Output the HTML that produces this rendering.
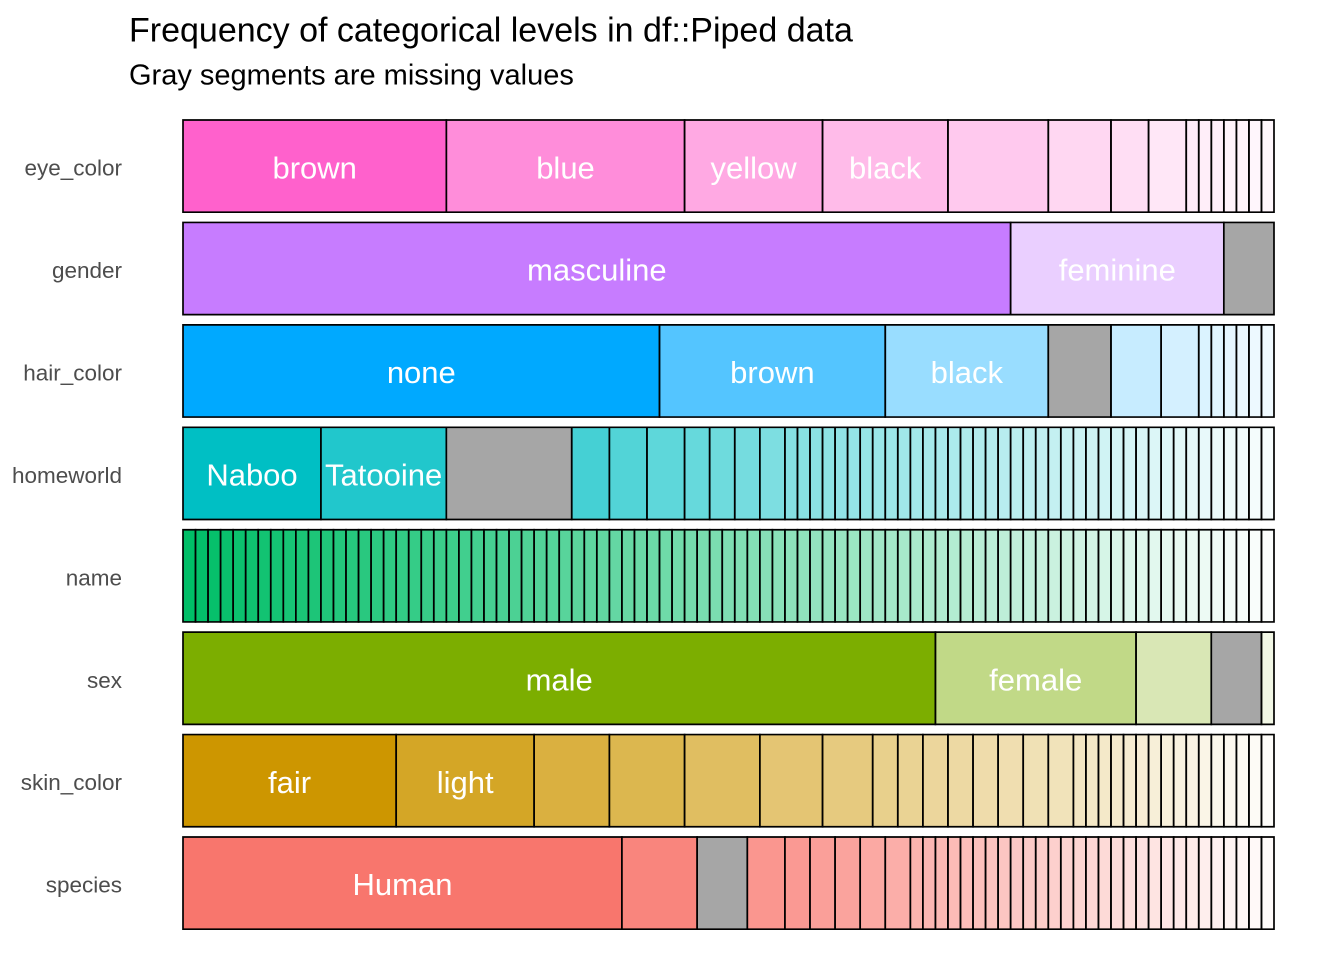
<!DOCTYPE html>
<html><head><meta charset="utf-8"><style>
html,body{margin:0;padding:0;background:#fff;}
svg{display:block;}
svg rect{vector-effect:non-scaling-stroke;}
text{font-family:"Liberation Sans",Arial,sans-serif;}
.ax{font-size:22.5px;fill:#4D4D4D;text-anchor:end;}
.lb{font-size:31px;fill:#fff;text-anchor:middle;}
</style></head><body>
<svg width="1344" height="960" viewBox="0 0 1344 960" xmlns="http://www.w3.org/2000/svg">
<rect x="0" y="0" width="1344" height="960" fill="#fff"/>
<text x="129" y="41.7" font-size="34" fill="#000">Frequency of categorical levels in df::Piped data</text>
<text x="129" y="84.3" font-size="29" fill="#000">Gray segments are missing values</text>

<g transform="translate(183,120) scale(12.54023,1)" fill="#FF61CC" stroke="#000" stroke-width="1.7">
<rect x="0" width="21" height="92.2"/>
<rect x="21" width="19" height="92.2" fill-opacity=".72"/>
<rect x="40" width="11" height="92.2" fill-opacity=".54"/>
<rect x="51" width="10" height="92.2" fill-opacity=".43"/>
<rect x="61" width="8" height="92.2" fill-opacity=".34"/>
<rect x="69" width="5" height="92.2" fill-opacity=".25"/>
<rect x="74" width="3" height="92.2" fill-opacity=".21"/>
<rect x="77" width="3" height="92.2" fill-opacity=".15"/>
<rect x="80" width="1" height="92.2" fill-opacity=".12"/>
<rect x="81" width="1" height="92.2" fill-opacity=".11"/>
<rect x="82" width="1" height="92.2" fill-opacity=".10"/>
<rect x="83" width="1" height="92.2" fill-opacity=".08"/>
<rect x="84" width="1" height="92.2" fill-opacity=".07"/>
<rect x="85" width="1" height="92.2" fill-opacity=".06"/>
<rect x="86" width="1" height="92.2" fill-opacity=".05"/>
</g>

<g transform="translate(183,222.43) scale(12.54023,1)" fill="#C77CFF" stroke="#000" stroke-width="1.7">
<rect x="0" width="66" height="92.2"/>
<rect x="66" width="17" height="92.2" fill-opacity=".37"/>
<rect x="83" width="4" height="92.2" fill="#A6A6A6"/>
</g>

<g transform="translate(183,324.86) scale(12.54023,1)" fill="#00A9FF" stroke="#000" stroke-width="1.7">
<rect x="0" width="38" height="92.2"/>
<rect x="38" width="18" height="92.2" fill-opacity=".67"/>
<rect x="56" width="13" height="92.2" fill-opacity=".40"/>
<rect x="69" width="5" height="92.2" fill="#A6A6A6"/>
<rect x="74" width="4" height="92.2" fill-opacity=".22"/>
<rect x="78" width="3" height="92.2" fill-opacity=".17"/>
<rect x="81" width="1" height="92.2" fill-opacity=".14"/>
<rect x="82" width="1" height="92.2" fill-opacity=".12"/>
<rect x="83" width="1" height="92.2" fill-opacity=".10"/>
<rect x="84" width="1" height="92.2" fill-opacity=".08"/>
<rect x="85" width="1" height="92.2" fill-opacity=".07"/>
<rect x="86" width="1" height="92.2" fill-opacity=".06"/>
</g>

<g transform="translate(183,427.29) scale(12.54023,1)" fill="#00BFC4" stroke="#000" stroke-width="1.7">
<rect x="0" width="11" height="92.2"/>
<rect x="11" width="10" height="92.2" fill-opacity=".87"/>
<rect x="21" width="10" height="92.2" fill="#A6A6A6"/>
<rect x="31" width="3" height="92.2" fill-opacity=".73"/>
<rect x="34" width="3" height="92.2" fill-opacity=".68"/>
<rect x="37" width="3" height="92.2" fill-opacity=".63"/>
<rect x="40" width="2" height="92.2" fill-opacity=".60"/>
<rect x="42" width="2" height="92.2" fill-opacity=".57"/>
<rect x="44" width="2" height="92.2" fill-opacity=".54"/>
<rect x="46" width="2" height="92.2" fill-opacity=".51"/>
<rect x="48" width="1" height="92.2" fill-opacity=".480"/>
<rect x="49" width="1" height="92.2" fill-opacity=".468"/>
<rect x="50" width="1" height="92.2" fill-opacity=".456"/>
<rect x="51" width="1" height="92.2" fill-opacity=".445"/>
<rect x="52" width="1" height="92.2" fill-opacity=".433"/>
<rect x="53" width="1" height="92.2" fill-opacity=".421"/>
<rect x="54" width="1" height="92.2" fill-opacity=".409"/>
<rect x="55" width="1" height="92.2" fill-opacity=".397"/>
<rect x="56" width="1" height="92.2" fill-opacity=".385"/>
<rect x="57" width="1" height="92.2" fill-opacity=".373"/>
<rect x="58" width="1" height="92.2" fill-opacity=".362"/>
<rect x="59" width="1" height="92.2" fill-opacity=".350"/>
<rect x="60" width="1" height="92.2" fill-opacity=".338"/>
<rect x="61" width="1" height="92.2" fill-opacity=".326"/>
<rect x="62" width="1" height="92.2" fill-opacity=".314"/>
<rect x="63" width="1" height="92.2" fill-opacity=".302"/>
<rect x="64" width="1" height="92.2" fill-opacity=".291"/>
<rect x="65" width="1" height="92.2" fill-opacity=".279"/>
<rect x="66" width="1" height="92.2" fill-opacity=".267"/>
<rect x="67" width="1" height="92.2" fill-opacity=".255"/>
<rect x="68" width="1" height="92.2" fill-opacity=".243"/>
<rect x="69" width="1" height="92.2" fill-opacity=".231"/>
<rect x="70" width="1" height="92.2" fill-opacity=".219"/>
<rect x="71" width="1" height="92.2" fill-opacity=".208"/>
<rect x="72" width="1" height="92.2" fill-opacity=".196"/>
<rect x="73" width="1" height="92.2" fill-opacity=".184"/>
<rect x="74" width="1" height="92.2" fill-opacity=".172"/>
<rect x="75" width="1" height="92.2" fill-opacity=".160"/>
<rect x="76" width="1" height="92.2" fill-opacity=".148"/>
<rect x="77" width="1" height="92.2" fill-opacity=".137"/>
<rect x="78" width="1" height="92.2" fill-opacity=".125"/>
<rect x="79" width="1" height="92.2" fill-opacity=".113"/>
<rect x="80" width="1" height="92.2" fill-opacity=".101"/>
<rect x="81" width="1" height="92.2" fill-opacity=".089"/>
<rect x="82" width="1" height="92.2" fill-opacity=".077"/>
<rect x="83" width="1" height="92.2" fill-opacity=".066"/>
<rect x="84" width="1" height="92.2" fill-opacity=".054"/>
<rect x="85" width="1" height="92.2" fill-opacity=".042"/>
<rect x="86" width="1" height="92.2" fill-opacity=".030"/>
</g>

<g transform="translate(183,529.72) scale(12.54023,1)" fill="#00BE67" stroke="#000" stroke-width="1.7">
<rect x="0" width="1" height="92.2"/>
<rect x="1" width="1" height="92.2" fill-opacity=".989"/>
<rect x="2" width="1" height="92.2" fill-opacity=".977"/>
<rect x="3" width="1" height="92.2" fill-opacity=".966"/>
<rect x="4" width="1" height="92.2" fill-opacity=".954"/>
<rect x="5" width="1" height="92.2" fill-opacity=".943"/>
<rect x="6" width="1" height="92.2" fill-opacity=".931"/>
<rect x="7" width="1" height="92.2" fill-opacity=".920"/>
<rect x="8" width="1" height="92.2" fill-opacity=".908"/>
<rect x="9" width="1" height="92.2" fill-opacity=".897"/>
<rect x="10" width="1" height="92.2" fill-opacity=".885"/>
<rect x="11" width="1" height="92.2" fill-opacity=".874"/>
<rect x="12" width="1" height="92.2" fill-opacity=".862"/>
<rect x="13" width="1" height="92.2" fill-opacity=".851"/>
<rect x="14" width="1" height="92.2" fill-opacity=".839"/>
<rect x="15" width="1" height="92.2" fill-opacity=".828"/>
<rect x="16" width="1" height="92.2" fill-opacity=".816"/>
<rect x="17" width="1" height="92.2" fill-opacity=".805"/>
<rect x="18" width="1" height="92.2" fill-opacity=".793"/>
<rect x="19" width="1" height="92.2" fill-opacity=".782"/>
<rect x="20" width="1" height="92.2" fill-opacity=".770"/>
<rect x="21" width="1" height="92.2" fill-opacity=".759"/>
<rect x="22" width="1" height="92.2" fill-opacity=".747"/>
<rect x="23" width="1" height="92.2" fill-opacity=".736"/>
<rect x="24" width="1" height="92.2" fill-opacity=".724"/>
<rect x="25" width="1" height="92.2" fill-opacity=".713"/>
<rect x="26" width="1" height="92.2" fill-opacity=".701"/>
<rect x="27" width="1" height="92.2" fill-opacity=".690"/>
<rect x="28" width="1" height="92.2" fill-opacity=".678"/>
<rect x="29" width="1" height="92.2" fill-opacity=".667"/>
<rect x="30" width="1" height="92.2" fill-opacity=".655"/>
<rect x="31" width="1" height="92.2" fill-opacity=".644"/>
<rect x="32" width="1" height="92.2" fill-opacity=".632"/>
<rect x="33" width="1" height="92.2" fill-opacity=".621"/>
<rect x="34" width="1" height="92.2" fill-opacity=".609"/>
<rect x="35" width="1" height="92.2" fill-opacity=".598"/>
<rect x="36" width="1" height="92.2" fill-opacity=".586"/>
<rect x="37" width="1" height="92.2" fill-opacity=".575"/>
<rect x="38" width="1" height="92.2" fill-opacity=".563"/>
<rect x="39" width="1" height="92.2" fill-opacity=".552"/>
<rect x="40" width="1" height="92.2" fill-opacity=".540"/>
<rect x="41" width="1" height="92.2" fill-opacity=".529"/>
<rect x="42" width="1" height="92.2" fill-opacity=".517"/>
<rect x="43" width="1" height="92.2" fill-opacity=".506"/>
<rect x="44" width="1" height="92.2" fill-opacity=".494"/>
<rect x="45" width="1" height="92.2" fill-opacity=".483"/>
<rect x="46" width="1" height="92.2" fill-opacity=".471"/>
<rect x="47" width="1" height="92.2" fill-opacity=".460"/>
<rect x="48" width="1" height="92.2" fill-opacity=".448"/>
<rect x="49" width="1" height="92.2" fill-opacity=".437"/>
<rect x="50" width="1" height="92.2" fill-opacity=".425"/>
<rect x="51" width="1" height="92.2" fill-opacity=".414"/>
<rect x="52" width="1" height="92.2" fill-opacity=".402"/>
<rect x="53" width="1" height="92.2" fill-opacity=".391"/>
<rect x="54" width="1" height="92.2" fill-opacity=".379"/>
<rect x="55" width="1" height="92.2" fill-opacity=".368"/>
<rect x="56" width="1" height="92.2" fill-opacity=".356"/>
<rect x="57" width="1" height="92.2" fill-opacity=".345"/>
<rect x="58" width="1" height="92.2" fill-opacity=".333"/>
<rect x="59" width="1" height="92.2" fill-opacity=".322"/>
<rect x="60" width="1" height="92.2" fill-opacity=".310"/>
<rect x="61" width="1" height="92.2" fill-opacity=".299"/>
<rect x="62" width="1" height="92.2" fill-opacity=".287"/>
<rect x="63" width="1" height="92.2" fill-opacity=".276"/>
<rect x="64" width="1" height="92.2" fill-opacity=".264"/>
<rect x="65" width="1" height="92.2" fill-opacity=".253"/>
<rect x="66" width="1" height="92.2" fill-opacity=".241"/>
<rect x="67" width="1" height="92.2" fill-opacity=".230"/>
<rect x="68" width="1" height="92.2" fill-opacity=".218"/>
<rect x="69" width="1" height="92.2" fill-opacity=".207"/>
<rect x="70" width="1" height="92.2" fill-opacity=".195"/>
<rect x="71" width="1" height="92.2" fill-opacity=".184"/>
<rect x="72" width="1" height="92.2" fill-opacity=".172"/>
<rect x="73" width="1" height="92.2" fill-opacity=".161"/>
<rect x="74" width="1" height="92.2" fill-opacity=".149"/>
<rect x="75" width="1" height="92.2" fill-opacity=".138"/>
<rect x="76" width="1" height="92.2" fill-opacity=".126"/>
<rect x="77" width="1" height="92.2" fill-opacity=".115"/>
<rect x="78" width="1" height="92.2" fill-opacity=".103"/>
<rect x="79" width="1" height="92.2" fill-opacity=".092"/>
<rect x="80" width="1" height="92.2" fill-opacity=".080"/>
<rect x="81" width="1" height="92.2" fill-opacity=".069"/>
<rect x="82" width="1" height="92.2" fill-opacity=".057"/>
<rect x="83" width="1" height="92.2" fill-opacity=".046"/>
<rect x="84" width="1" height="92.2" fill-opacity=".034"/>
<rect x="85" width="1" height="92.2" fill-opacity=".023"/>
<rect x="86" width="1" height="92.2" fill-opacity=".011"/>
</g>

<g transform="translate(183,632.15) scale(12.54023,1)" fill="#7CAE00" stroke="#000" stroke-width="1.7">
<rect x="0" width="60" height="92.2"/>
<rect x="60" width="16" height="92.2" fill-opacity=".47"/>
<rect x="76" width="6" height="92.2" fill-opacity=".29"/>
<rect x="82" width="4" height="92.2" fill="#A6A6A6"/>
<rect x="86" width="1" height="92.2" fill-opacity=".10"/>
</g>

<g transform="translate(183,734.58) scale(12.54023,1)" fill="#CD9600" stroke="#000" stroke-width="1.7">
<rect x="0" width="17" height="92.2"/>
<rect x="17" width="11" height="92.2" fill-opacity=".85"/>
<rect x="28" width="6" height="92.2" fill-opacity=".75"/>
<rect x="34" width="6" height="92.2" fill-opacity=".69"/>
<rect x="40" width="6" height="92.2" fill-opacity=".62"/>
<rect x="46" width="5" height="92.2" fill-opacity=".55"/>
<rect x="51" width="4" height="92.2" fill-opacity=".50"/>
<rect x="55" width="2" height="92.2" fill-opacity=".45"/>
<rect x="57" width="2" height="92.2" fill-opacity=".42"/>
<rect x="59" width="2" height="92.2" fill-opacity=".39"/>
<rect x="61" width="2" height="92.2" fill-opacity=".36"/>
<rect x="63" width="2" height="92.2" fill-opacity=".33"/>
<rect x="65" width="2" height="92.2" fill-opacity=".31"/>
<rect x="67" width="2" height="92.2" fill-opacity=".29"/>
<rect x="69" width="2" height="92.2" fill-opacity=".27"/>
<rect x="71" width="1" height="92.2" fill-opacity=".240"/>
<rect x="72" width="1" height="92.2" fill-opacity=".225"/>
<rect x="73" width="1" height="92.2" fill-opacity=".211"/>
<rect x="74" width="1" height="92.2" fill-opacity=".196"/>
<rect x="75" width="1" height="92.2" fill-opacity=".181"/>
<rect x="76" width="1" height="92.2" fill-opacity=".167"/>
<rect x="77" width="1" height="92.2" fill-opacity=".152"/>
<rect x="78" width="1" height="92.2" fill-opacity=".137"/>
<rect x="79" width="1" height="92.2" fill-opacity=".123"/>
<rect x="80" width="1" height="92.2" fill-opacity=".108"/>
<rect x="81" width="1" height="92.2" fill-opacity=".093"/>
<rect x="82" width="1" height="92.2" fill-opacity=".079"/>
<rect x="83" width="1" height="92.2" fill-opacity=".064"/>
<rect x="84" width="1" height="92.2" fill-opacity=".049"/>
<rect x="85" width="1" height="92.2" fill-opacity=".035"/>
<rect x="86" width="1" height="92.2" fill-opacity=".020"/>
</g>

<g transform="translate(183,837.01) scale(12.54023,1)" fill="#F8766D" stroke="#000" stroke-width="1.7">
<rect x="0" width="35" height="92.2"/>
<rect x="35" width="6" height="92.2" fill-opacity=".89"/>
<rect x="41" width="4" height="92.2" fill="#A6A6A6"/>
<rect x="45" width="3" height="92.2" fill-opacity=".77"/>
<rect x="48" width="2" height="92.2" fill-opacity=".74"/>
<rect x="50" width="2" height="92.2" fill-opacity=".70"/>
<rect x="52" width="2" height="92.2" fill-opacity=".67"/>
<rect x="54" width="2" height="92.2" fill-opacity=".63"/>
<rect x="56" width="2" height="92.2" fill-opacity=".59"/>
<rect x="58" width="1" height="92.2" fill-opacity=".550"/>
<rect x="59" width="1" height="92.2" fill-opacity=".531"/>
<rect x="60" width="1" height="92.2" fill-opacity=".513"/>
<rect x="61" width="1" height="92.2" fill-opacity=".494"/>
<rect x="62" width="1" height="92.2" fill-opacity=".476"/>
<rect x="63" width="1" height="92.2" fill-opacity=".457"/>
<rect x="64" width="1" height="92.2" fill-opacity=".439"/>
<rect x="65" width="1" height="92.2" fill-opacity=".420"/>
<rect x="66" width="1" height="92.2" fill-opacity=".401"/>
<rect x="67" width="1" height="92.2" fill-opacity=".383"/>
<rect x="68" width="1" height="92.2" fill-opacity=".364"/>
<rect x="69" width="1" height="92.2" fill-opacity=".346"/>
<rect x="70" width="1" height="92.2" fill-opacity=".327"/>
<rect x="71" width="1" height="92.2" fill-opacity=".309"/>
<rect x="72" width="1" height="92.2" fill-opacity=".290"/>
<rect x="73" width="1" height="92.2" fill-opacity=".271"/>
<rect x="74" width="1" height="92.2" fill-opacity=".253"/>
<rect x="75" width="1" height="92.2" fill-opacity=".234"/>
<rect x="76" width="1" height="92.2" fill-opacity=".216"/>
<rect x="77" width="1" height="92.2" fill-opacity=".197"/>
<rect x="78" width="1" height="92.2" fill-opacity=".179"/>
<rect x="79" width="1" height="92.2" fill-opacity=".160"/>
<rect x="80" width="1" height="92.2" fill-opacity=".141"/>
<rect x="81" width="1" height="92.2" fill-opacity=".123"/>
<rect x="82" width="1" height="92.2" fill-opacity=".104"/>
<rect x="83" width="1" height="92.2" fill-opacity=".086"/>
<rect x="84" width="1" height="92.2" fill-opacity=".067"/>
<rect x="85" width="1" height="92.2" fill-opacity=".049"/>
<rect x="86" width="1" height="92.2" fill-opacity=".030"/>
</g>

<text class="ax" x="122" y="175.7">eye_color</text>
<text class="ax" x="122" y="278.1">gender</text>
<text class="ax" x="122" y="380.5">hair_color</text>
<text class="ax" x="122" y="482.9">homeworld</text>
<text class="ax" x="122" y="585.4">name</text>
<text class="ax" x="122" y="687.8">sex</text>
<text class="ax" x="122" y="790.2">skin_color</text>
<text class="ax" x="122" y="892.6">species</text>

<text class="lb" x="314.7" y="178.3">brown</text>
<text class="lb" x="565.5" y="178.3">blue</text>
<text class="lb" x="753.6" y="178.3">yellow</text>
<text class="lb" x="885.2" y="178.3">black</text>
<text class="lb" x="596.8" y="280.7">masculine</text>
<text class="lb" x="1117.3" y="280.7">feminine</text>
<text class="lb" x="421.3" y="383.1">none</text>
<text class="lb" x="772.4" y="383.1">brown</text>
<text class="lb" x="966.8" y="383.1">black</text>
<text class="lb" x="252" y="485.5">Naboo</text>
<text class="lb" x="383.6" y="485.5">Tatooine</text>
<text class="lb" x="559.2" y="690.4">male</text>
<text class="lb" x="1035.7" y="690.4">female</text>
<text class="lb" x="289.6" y="792.8">fair</text>
<text class="lb" x="465.2" y="792.8">light</text>
<text class="lb" x="402.5" y="895.2">Human</text>
</svg>
</body></html>
